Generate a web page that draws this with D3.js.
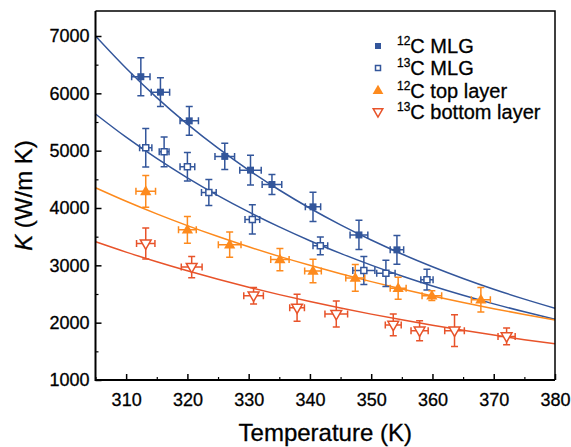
<!DOCTYPE html>
<html><head><meta charset="utf-8">
<script src="https://cdn.jsdelivr.net/npm/d3@7"></script>
<style>body{margin:0;background:#fff}svg{display:block}text{font-family:"Liberation Sans",Arial,sans-serif;fill:#000;stroke:#000;stroke-width:0.3px}</style>
</head><body><svg id="c" width="571" height="447"></svg>
<script>
// ---- data ----
const seriesNames = ["12C MLG","13C MLG","12C top layer","13C bottom layer"];
const mlg12T  = [312.4, 315.6, 320.3, 326.1, 330.3, 333.8, 340.5, 348.0, 354.2];
const mlg12K  = [6290, 6020, 5520, 4900, 4660, 4410, 4020, 3530, 3270];
const mlg12dT = [1.5, 1.5, 1.5, 1.6, 1.75, 1.6, 1.25, 1.45, 1.1];
const mlg12dK = [330, 250, 250, 230, 260, 175, 255, 255, 250];

const mlg13T  = [313.2, 316.2, 320.0, 323.5, 330.6, 341.7, 348.8, 352.4, 359.1];
const mlg13K  = [5050, 4980, 4720, 4270, 3800, 3340, 2910, 2860, 2750];
const mlg13dT = [1.0, 0.8, 1.2, 1.2, 1.2, 1.2, 1.8, 1.5, 1.0];
const mlg13dK = [335, 260, 250, 225, 255, 155, 245, 230, 180];

const top12T  = [313.2, 320.0, 326.9, 335.1, 340.5, 347.4, 354.4, 359.9, 367.9];
const top12K  = [4290, 3620, 3360, 3100, 2900, 2780, 2600, 2470, 2400];
const top12dT = [1.6, 1.45, 1.85, 1.5, 1.36, 1.55, 1.3, 1.6, 1.55];
const top12dK = [275, 233, 220, 195, 205, 233, 190, 85, 212];

const bot13T  = [313.2, 320.7, 330.8, 337.9, 344.3, 353.6, 357.9, 363.6, 372.1];
const bot13K  = [3380, 2970, 2470, 2260, 2150, 1960, 1860, 1860, 1760];
const bot13dT = [1.5, 1.7, 1.6, 1.2, 1.85, 1.3, 1.4, 1.6, 1.4];
const bot13dK = [270, 185, 145, 235, 227, 190, 175, 276, 145];

// fitted curves
const fitT      = [305,310,315,320,325,330,335,340,345,350,355,360,365,370,375,380];
const fitMlg12  = [7000,6437,5926,5464,5044,4662,4314,3996,3706,3441,3198,2976,2771,2583,2411,2251];
const fitMlg13  = [5640,5235,4865,4527,4217,3932,3670,3429,3208,3003,2814,2640,2478,2328,2189,2060];
const fitTop12  = [4354,4118,3898,3693,3502,3323,3156,3000,2853,2716,2587,2466,2352,2244,2143,2048];
const fitBot13  = [3412,3231,3062,2904,2756,2618,2489,2369,2255,2149,2049,1955,1866,1783,1704,1630];

const xTicks = [310,320,330,340,350,360,370,380];
const xMinor = [305,315,325,335,345,355,365,375];
const yTicks = [1000,2000,3000,4000,5000,6000,7000];
const yMinor = [1500,2500,3500,4500,5500,6500];

// ---- layout ----
const svg = d3.select("#c");
const L = 95.5, R = 555, B = 380, T = 11;
const x = d3.scaleLinear().domain([305,380]).range([L,R]);
const y = d3.scaleLinear().domain([1000,7000]).range([B,36]);
const blue = "#33569b", orange = "#fd8a1d", red = "#e8532a";

svg.append("clipPath").attr("id","clip").append("rect")
  .attr("x",L).attr("y",T).attr("width",R-L).attr("height",B-T);

// curves
const line = d3.line().x(d=>x(d[0])).y(d=>y(d[1])).curve(d3.curveMonotoneX);
[[fitMlg12,blue],[fitMlg13,blue],[fitTop12,orange],[fitBot13,red]].forEach(([arr,col])=>{
  svg.append("path").attr("clip-path","url(#clip)")
    .attr("d", line(fitT.map((t,i)=>[t,arr[i]])))
    .attr("fill","none").attr("stroke",col).attr("stroke-width",1.5);
});

// error bars + markers
const sq = d3.symbol().type(d3.symbolSquare);
const tri = d3.symbol().type(d3.symbolTriangle);
function drawSeries(Ts,Ks,dTs,dKs,col,kind){
  const g = svg.append("g");
  Ts.forEach((t,i)=>{
    const cx=x(t), cy=y(Ks[i]);
    const x0=x(t-dTs[i]), x1=x(t+dTs[i]);
    const y0=y(Ks[i]-dKs[i]), y1=y(Ks[i]+dKs[i]);
    const cw=3.5;
    const p = `M${cx},${y0}V${y1}M${cx-cw},${y0}H${cx+cw}M${cx-cw},${y1}H${cx+cw}`+
              `M${x0},${cy}H${x1}M${x0},${cy-cw}V${cy+cw}M${x1},${cy-cw}V${cy+cw}`;
    g.append("path").attr("d",p).attr("stroke",col).attr("stroke-width",1.5).attr("fill","none");
    marker(g,cx,cy,col,kind);
  });
}
function marker(g,cx,cy,col,kind){
  if(kind==="fsq") g.append("path").attr("d",sq.size(49)()).attr("transform",`translate(${cx},${cy})`).attr("fill",col);
  if(kind==="osq") g.append("path").attr("d",sq.size(36)()).attr("transform",`translate(${cx},${cy})`).attr("fill","#fff").attr("stroke",col).attr("stroke-width",1.5);
  if(kind==="ftri") g.append("path").attr("d",tri.size(55)()).attr("transform",`translate(${cx},${cy+0.5})`).attr("fill",col);
  if(kind==="otri") g.append("path").attr("d",tri.size(50)()).attr("transform",`translate(${cx},${cy-0.5}) rotate(180)`).attr("fill","#fff").attr("stroke",col).attr("stroke-width",1.5);
}
drawSeries(mlg12T,mlg12K,mlg12dT,mlg12dK,blue,"fsq");
drawSeries(mlg13T,mlg13K,mlg13dT,mlg13dK,blue,"osq");
drawSeries(top12T,top12K,top12dT,top12dK,orange,"ftri");
drawSeries(bot13T,bot13K,bot13dT,bot13dK,red,"otri");

// frame
svg.append("path").attr("d",`M${L},${T}H${R}V${B}`).attr("fill","none").attr("stroke","#000").attr("stroke-width",1.5);
svg.append("path").attr("d",`M${L},${T}V${B}H${R}`).attr("fill","none").attr("stroke","#000").attr("stroke-width",2);

// axes (ticks inward)
const xAx = svg.append("g").attr("transform",`translate(0,${B})`)
  .call(d3.axisBottom(x).tickValues(xTicks).tickSizeInner(-6).tickSizeOuter(0).tickPadding(16).tickFormat(d3.format("d")));
xAx.select(".domain").remove();
xAx.selectAll("line").attr("stroke","#000").attr("stroke-width",1.5);
xAx.selectAll("text").attr("font-size",18).attr("dy","0.71em").attr("y",13);
const xMi = svg.append("g").attr("transform",`translate(0,${B})`)
  .call(d3.axisBottom(x).tickValues(xMinor).tickSizeInner(-3).tickSizeOuter(0).tickFormat(""));
xMi.select(".domain").remove();
xMi.selectAll("line").attr("stroke","#000").attr("stroke-width",1.2);

const yAx = svg.append("g").attr("transform",`translate(${L},0)`)
  .call(d3.axisLeft(y).tickValues(yTicks).tickSizeInner(-6).tickSizeOuter(0).tickPadding(12).tickFormat(d3.format("d")));
yAx.select(".domain").remove();
yAx.selectAll("line").attr("stroke","#000").attr("stroke-width",1.5);
yAx.selectAll("text").attr("font-size",18).attr("x",-6);
const yMi = svg.append("g").attr("transform",`translate(${L},0)`)
  .call(d3.axisLeft(y).tickValues(yMinor).tickSizeInner(-3).tickSizeOuter(0).tickFormat(""));
yMi.select(".domain").remove();
yMi.selectAll("line").attr("stroke","#000").attr("stroke-width",1.2);

// axis titles
svg.append("text").attr("x",(L+R)/2).attr("y",441).attr("text-anchor","middle")
  .attr("font-size",24).text("Temperature (K)");
const yt = svg.append("text").attr("transform",`translate(32,${(T+B)/2}) rotate(-90)`)
  .attr("text-anchor","middle").attr("font-size",24);
yt.append("tspan").attr("font-style","italic").text("K");
yt.append("tspan").text(" (W/m K)");

// legend
const legY = [46, 68, 90.5, 112];
const legKinds = ["fsq","osq","ftri","otri"];
const legCols = [blue, blue, orange, red];
const legSup = ["12","13","12","13"];
const legRest = ["C MLG","C MLG","C top layer","C bottom layer"];
legY.forEach((ly,i)=>{
  const g = svg.append("g");
  if(legKinds[i]==="fsq") g.append("path").attr("d",sq.size(36)()).attr("transform",`translate(378,${ly})`).attr("fill",legCols[i]);
  if(legKinds[i]==="osq") g.append("path").attr("d",sq.size(25)()).attr("transform",`translate(378,${ly})`).attr("fill","#fff").attr("stroke",legCols[i]).attr("stroke-width",1.5);
  if(legKinds[i]==="ftri") g.append("path").attr("d",tri.size(50)()).attr("transform",`translate(378,${ly+0.5})`).attr("fill",legCols[i]);
  if(legKinds[i]==="otri") g.append("path").attr("d",tri.size(40)()).attr("transform",`translate(378,${ly-0.5}) rotate(180)`).attr("fill","#fff").attr("stroke",legCols[i]).attr("stroke-width",1.5);
  const t = svg.append("text").attr("x",397).attr("y",ly+7).attr("font-size",20);
  t.append("tspan").attr("font-size",12).attr("dy",-8).text(legSup[i]);
  t.append("tspan").attr("dy",8).text(legRest[i]);
});
</script></body></html>
